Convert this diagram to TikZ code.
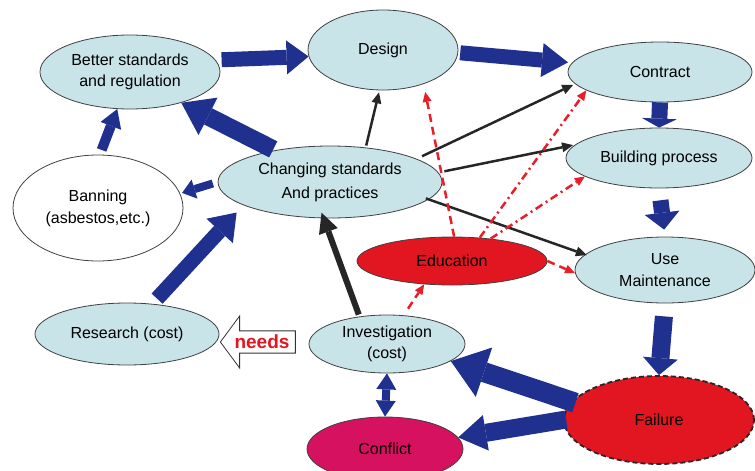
\documentclass[tikz,border=0pt]{standalone}
\usepackage{fontspec}
\setmainfont{Liberation Sans}
\usetikzlibrary{shapes.geometric,shapes.arrows,arrows.meta}

\definecolor{paleblue}{RGB}{200,228,232}
\definecolor{navy}{RGB}{32,48,142}
\definecolor{alarmred}{RGB}{226,22,32}
\definecolor{conflictpink}{RGB}{214,18,96}
\definecolor{dashred}{RGB}{232,30,40}

\begin{document}
\begin{tikzpicture}[x=1pt,y=-1pt,
    bubble/.style={ellipse, draw=black!75, line width=0.8pt, fill=paleblue,
        inner sep=0pt, align=center, font=\fontsize{16}{21}\selectfont},
    fatarrow/.style n args={3}{draw=navy, line width=#1,
        -{Triangle[width=#2, length=#3, line width=0pt]}},
    blackarrow/.style={draw=black!85, line width=2.5pt,
        -{Triangle[width=10pt, length=11pt, line width=0pt]}},
    redarrow/.style={draw=dashred, line width=2.5pt,
        dash pattern=on 8pt off 5pt,
        -{Triangle[width=9pt, length=10pt, line width=0pt]}},
    reddashdot/.style={redarrow, dash pattern=on 8pt off 4pt on 2pt off 4pt}]

\useasboundingbox (0,0) rectangle (755,471);

% Bubbles
\node[bubble, minimum width=180pt, minimum height=74pt] (better) at (130,72)
    {Better standards\\and regulation};
\node[bubble, minimum width=150pt, minimum height=80pt] (design) at (383,50) {Design};
\node[bubble, minimum width=184pt, minimum height=60pt] (contract) at (660,72) {Contract};
\node[bubble, minimum width=186pt, minimum height=60pt] (building) at (659,158)
    {Building process};
\node[bubble, minimum width=180pt, minimum height=66pt] (use) at (665,270)
    {Use\\[1pt]Maintenance};
\node[bubble, fill=white, minimum width=170pt, minimum height=106pt] (banning) at (98,208)
    {Banning\\[1pt](asbestos,etc.)};
\node[bubble, minimum width=224pt, minimum height=72pt] (changing) at (330,182)
    {Changing standards\\[3pt]And practices};
\node[bubble, fill=alarmred, minimum width=190pt, minimum height=48pt] (education) at (452,261)
    {Education};
\node[bubble, minimum width=184pt, minimum height=62pt] (research) at (127,334)
    {Research (cost)};
\node[bubble, minimum width=156pt, minimum height=58pt] (invest) at (387,344)
    {Investigation\\(cost)};
\node[bubble, fill=conflictpink, minimum width=156pt, minimum height=64pt] (conflict) at (385,449)
    {Conflict};
\node[bubble, fill=alarmred, draw=black!85, line width=1.8pt, dash pattern=on 5pt off 3pt,
    minimum width=190pt, minimum height=88pt] (failure) at (659,420) {Failure};

% needs
\node[single arrow, shape border rotate=180, draw=black!80, line width=0.8pt, fill=white,
    minimum height=75pt, minimum width=52pt, single arrow head extend=12.5pt,
    single arrow tip angle=107, inner sep=2pt, text=alarmred,
    font=\bfseries\fontsize{19}{19}\selectfont] (needs) at (262,342) {needs};

% Blue arrows
\draw[fatarrow={15pt}{34pt}{22pt}, shorten <=6pt] (better.8) -- (design.185);
\draw[fatarrow={15pt}{34pt}{26pt}, shorten <=2pt, shorten >=4pt] (design.-2) -- (contract.174);
\draw[fatarrow={16pt}{35pt}{9pt}] (contract.south) -- (building.north);
\draw[fatarrow={16pt}{35pt}{17pt}, shorten <=12pt, shorten >=7pt] (building.south) -- (use.north);
\draw[fatarrow={18pt}{35pt}{17pt}, shorten <=13pt] (use.south) -- (failure.north);
\draw[fatarrow={20pt}{52pt}{35pt}, shorten <=-4pt] (failure.168) -- (invest.-15);
\draw[fatarrow={18pt}{36pt}{28pt}, shorten <=-3pt] (failure.180) -- (conflict.9);
\draw[draw=navy, line width=8pt,
    {Triangle[width=20pt, length=16pt, line width=0pt]}-{Triangle[width=20pt, length=16pt, line width=0pt]}]
    (invest.south) -- (conflict.north);
\draw[fatarrow={18pt}{42pt}{30pt}, shorten <=2pt] (changing.150) -- (better.-31);
\draw[fatarrow={10pt}{22pt}{18pt}, shorten <=5pt] (banning.88) -- (better.-109);
\draw[fatarrow={8pt}{20pt}{13pt}, shorten <=5pt, shorten >=2pt] (changing.180) -- (banning.10);
\draw[fatarrow={15pt}{36pt}{25pt}, shorten <=7pt, shorten >=10pt] (research.50) -- (changing.195);

% Black arrows
\draw[blackarrow, shorten <=2pt, shorten >=2pt] (changing.44) -- (design.-95);
\draw[blackarrow, shorten <=6pt, shorten >=2pt] (changing.15) -- (contract.188);
\draw[blackarrow, shorten <=6pt, shorten >=2pt] (changing.5) -- (building.171);
\draw[blackarrow, shorten <=-3pt, shorten >=-2pt] (changing.-10) -- (use.169);
\draw[draw=black!85, line width=6pt,
    -{Triangle[width=20pt, length=20pt, line width=0pt]}, shorten <=2pt, shorten >=-6pt]
    (invest.135) -- (changing.-100);

% Red dashed arrows
\draw[redarrow, shorten >=8pt] (education.85) -- (design.-40);
\draw[reddashdot] (education.40) -- (contract.194);
\draw[reddashdot] (education.30) -- (building.194);
\draw[redarrow] (education.east) -- (use.182);
\draw[redarrow, shorten <=8pt] (invest.60) -- (education.220);

\end{tikzpicture}
\end{document}
